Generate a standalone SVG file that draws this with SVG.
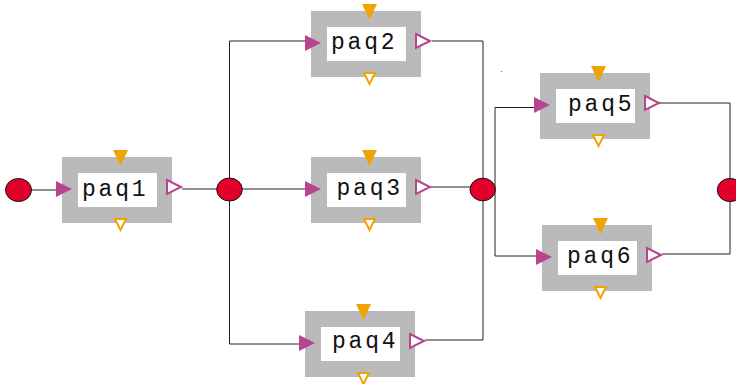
<svg xmlns="http://www.w3.org/2000/svg" width="736" height="384" viewBox="0 0 736 384">
<style>
.box{fill:#bababa}
.win{fill:#ffffff}
.in{fill:#b8448f}
.out{fill:#ffffff;stroke:#b8448f;stroke-width:2}
.top{fill:#f0a400}
.bot{fill:#ffffff;stroke:#f0a400;stroke-width:2}
.lbl{font-family:"Liberation Mono","Courier New",monospace;font-size:23px;fill:#111;letter-spacing:2.8px}
.wire{fill:none;stroke:#222;stroke-width:1}
.junc{fill:#e1002a;stroke:#111;stroke-width:1}
</style>
<defs>
<g id="shape">
<rect class="box" x="0" y="0" width="110" height="66"/>
<rect class="win" x="16" y="16" width="79" height="34"/>
<polygon class="in" points="-6,24 10,32 -6,40"/>
<polygon class="out" points="105,23 119,30 105,37"/>
<polygon class="top" points="51,-7 66,-7 58.5,9"/>
<polygon class="bot" points="53,62 64,62 58.5,73"/>
</g>
</defs>
<g id="connectors">
<path class="wire" d="M31,190H56"/>
<path class="wire" d="M182,189H217"/>
<path class="wire" d="M305,41H229.5V344H300"/>
<path class="wire" d="M242,189H305"/>
<path class="wire" d="M432,41H483V340H425"/>
<path class="wire" d="M431,187H470"/>
<path class="wire" d="M534,107.5H495V256H536"/>
<path class="wire" d="M659,103H730V254H662"/>
<circle cx="501.5" cy="71.5" r="0.6" fill="#555"/>
</g>
<g id="start"><ellipse class="junc" cx="18.5" cy="190" rx="13" ry="11.5"/></g>
<g id="fork1"><ellipse class="junc" cx="229.5" cy="189.5" rx="12.8" ry="11.5"/></g>
<g id="join1"><ellipse class="junc" cx="482.7" cy="189.5" rx="12.7" ry="11.3"/></g>
<g id="end"><ellipse class="junc" cx="730" cy="190" rx="12.7" ry="11.6"/></g>
<g id="paq1"><use href="#shape" x="62" y="157"/><text class="lbl" x="82" y="196">paq1</text></g>
<g id="paq2"><use href="#shape" x="311" y="11"/><text class="lbl" x="331" y="49">paq2</text></g>
<g id="paq3"><use href="#shape" x="311" y="157"/><text class="lbl" x="336.5" y="195">paq3</text></g>
<g id="paq4"><use href="#shape" x="305" y="311"/><text class="lbl" x="332" y="348">paq4</text></g>
<g id="paq5"><use href="#shape" x="540" y="73"/><text class="lbl" x="568" y="111">paq5</text></g>
<g id="paq6"><use href="#shape" x="542" y="225"/><text class="lbl" x="567" y="263">paq6</text></g>
</svg>
